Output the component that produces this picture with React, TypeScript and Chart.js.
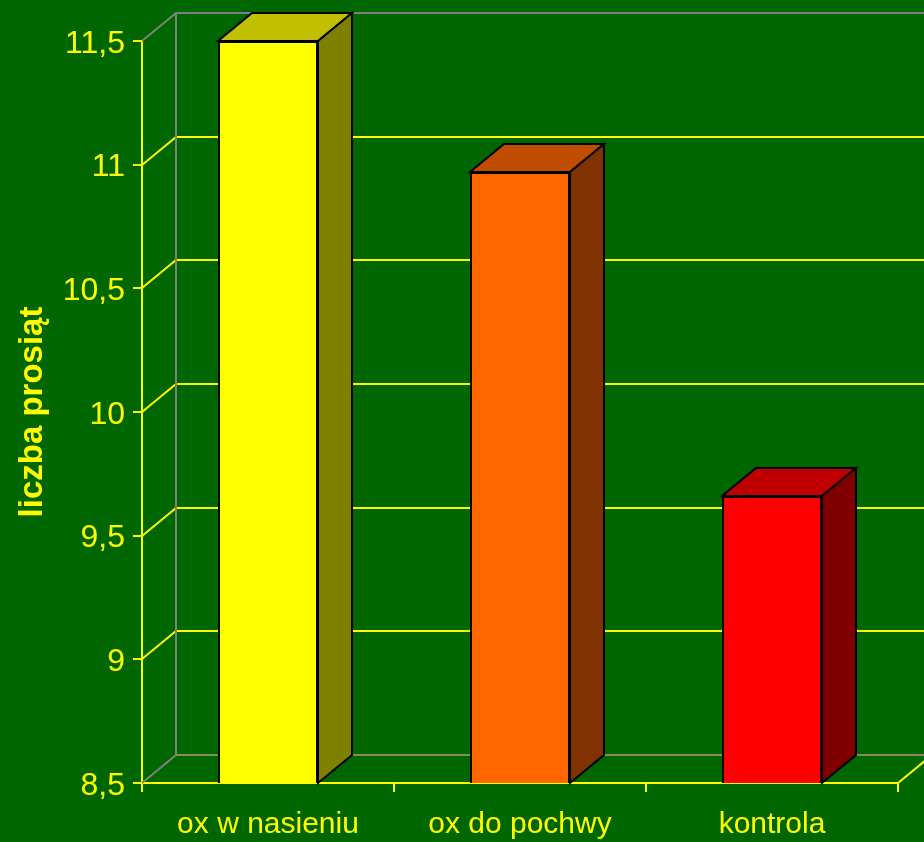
import React, { useEffect, useRef } from 'react';
import { Chart, registerables } from 'chart.js';

Chart.register(...registerables);

// ---- data ----
const categories = ['ox w nasieniu', 'ox do pochwy', 'kontrola'];
const values = [11.5, 10.97, 9.66];
const yTickValues = [8.5, 9, 9.5, 10, 10.5, 11, 11.5];
const yTickLabels = ['8,5', '9', '9,5', '10', '10,5', '11', '11,5'];
const yTitle = 'liczba prosiąt';

// ---- styles ----
const BG = '#006600';
const YELLOW = '#FFFF00';
const GRAY = '#808080';
const FLOOR_BACK = '#8a8a60';
const frontColors = ['#FFFF00', '#FF6600', '#FF0000'];
const topColors = ['#C0C000', '#C04C00', '#C00000'];
const sideColors = ['#808000', '#803300', '#800000'];
const DX = 34;
const DY = 28;
const FONT = "'Liberation Sans', Arial, sans-serif";

const threeDPlugin = {
  id: 'threeD',
  beforeDraw(chart: any) {
    const { ctx, width, height } = chart;
    ctx.save();
    ctx.fillStyle = BG;
    ctx.fillRect(0, 0, width, height);
    ctx.restore();
  },
  beforeDatasetsDraw(chart: any) {
    const { ctx, chartArea, scales } = chart;
    const { left, right, top, bottom } = chartArea;
    const y = scales.y;
    const minV = yTickValues[0];
    const maxV = yTickValues[yTickValues.length - 1];
    ctx.save();
    ctx.lineWidth = 2;
    ctx.lineCap = 'butt';
    // inner gridlines on left wall + back wall
    ctx.strokeStyle = YELLOW;
    yTickValues.forEach((v) => {
      if (v === minV || v === maxV) return;
      const py = Math.round(y.getPixelForValue(v));
      ctx.beginPath();
      ctx.moveTo(left, py);
      ctx.lineTo(left + DX, py - DY);
      ctx.lineTo(chart.width, py - DY);
      ctx.stroke();
    });
    // wall edges (gray)
    ctx.strokeStyle = GRAY;
    ctx.beginPath();
    ctx.moveTo(left, top);
    ctx.lineTo(left + DX, top - DY);
    ctx.lineTo(chart.width, top - DY);
    ctx.moveTo(left + DX, top - DY);
    ctx.lineTo(left + DX, bottom - DY);
    ctx.moveTo(left, bottom);
    ctx.lineTo(left + DX, bottom - DY);
    ctx.stroke();
    // floor back edge
    ctx.strokeStyle = FLOOR_BACK;
    ctx.beginPath();
    ctx.moveTo(left + DX, bottom - DY);
    ctx.lineTo(chart.width, bottom - DY);
    ctx.stroke();
    // floor right edge
    ctx.strokeStyle = YELLOW;
    ctx.beginPath();
    ctx.moveTo(right, bottom);
    ctx.lineTo(right + DX, bottom - DY);
    ctx.stroke();
    ctx.restore();
  },
  afterDatasetsDraw(chart: any) {
    const { ctx, chartArea } = chart;
    const meta = chart.getDatasetMeta(0);
    ctx.save();
    ctx.lineWidth = 2;
    ctx.lineJoin = 'miter';
    ctx.strokeStyle = '#000000';
    meta.data.forEach((bar: any, i: number) => {
      const { x, y, base, width } = bar.getProps(['x', 'y', 'base', 'width'], true);
      const b = Math.min(base, chartArea.bottom);
      const l = x - width / 2;
      const r = x + width / 2;
      // top face
      ctx.fillStyle = topColors[i];
      ctx.beginPath();
      ctx.moveTo(l, y);
      ctx.lineTo(l + DX, y - DY);
      ctx.lineTo(r + DX, y - DY);
      ctx.lineTo(r, y);
      ctx.closePath();
      ctx.fill();
      ctx.stroke();
      // side face
      ctx.fillStyle = sideColors[i];
      ctx.beginPath();
      ctx.moveTo(r, y);
      ctx.lineTo(r + DX, y - DY);
      ctx.lineTo(r + DX, b - DY);
      ctx.lineTo(r, b);
      ctx.closePath();
      ctx.fill();
      ctx.stroke();
    });
    ctx.restore();
  },
};

export default function App() {
  const ref = useRef<HTMLCanvasElement | null>(null);

  useEffect(() => {
    if (!ref.current) return;
    const chart = new Chart(ref.current, {
      type: 'bar',
      data: {
        labels: categories,
        datasets: [
          {
            data: values,
            backgroundColor: frontColors,
            borderColor: '#000000',
            borderWidth: 2,
            borderSkipped: false,
            barPercentage: 0.397,
            categoryPercentage: 1,
          },
        ],
      },
      options: {
        animation: false,
        responsive: false,
        devicePixelRatio: 1,
        layout: { padding: { top: 41, right: 26, bottom: 0, left: 0 } },
        plugins: {
          legend: { display: false },
          tooltip: { enabled: false },
        },
        scales: {
          x: {
            type: 'category',
            offset: true,
            grid: {
              display: true,
              offset: true,
              drawOnChartArea: false,
              drawTicks: true,
              tickLength: 9,
              color: YELLOW,
              lineWidth: 2,
            },
            border: { display: true, color: YELLOW, width: 2 },
            ticks: {
              color: YELLOW,
              font: { family: FONT, size: 30 },
              padding: 15,
              maxRotation: 0,
              autoSkip: false,
            },
            afterFit: (scale: any) => {
              scale.height = 59;
            },
          },
          y: {
            type: 'linear',
            min: yTickValues[0],
            max: yTickValues[yTickValues.length - 1],
            grid: {
              display: true,
              drawOnChartArea: false,
              drawTicks: true,
              tickLength: 9,
              color: YELLOW,
              lineWidth: 2,
            },
            border: { display: true, color: YELLOW, width: 2 },
            ticks: {
              stepSize: 0.5,
              color: YELLOW,
              font: { family: FONT, size: 32 },
              padding: 8,
              labelOffset: 3,
              callback: (v: any) => {
                const i = yTickValues.findIndex((t) => Math.abs(t - Number(v)) < 1e-6);
                return i >= 0 ? yTickLabels[i] : '';
              },
            },
            title: {
              display: true,
              text: yTitle,
              color: YELLOW,
              font: { family: FONT, size: 33, weight: 'bold' },
              padding: { top: 13, bottom: 0 },
            },
            afterFit: (scale: any) => {
              scale.width = 142;
            },
          },
        },
      },
      plugins: [threeDPlugin],
    } as any);
    return () => chart.destroy();
  }, []);

  return (
    <div
      style={{
        position: 'fixed',
        left: 0,
        top: 0,
        width: 924,
        height: 842,
        background: BG,
        overflow: 'hidden',
      }}
    >
      <canvas
        ref={ref}
        width={924}
        height={842}
        style={{ display: 'block', width: 924, height: 842 }}
      />
    </div>
  );
}
